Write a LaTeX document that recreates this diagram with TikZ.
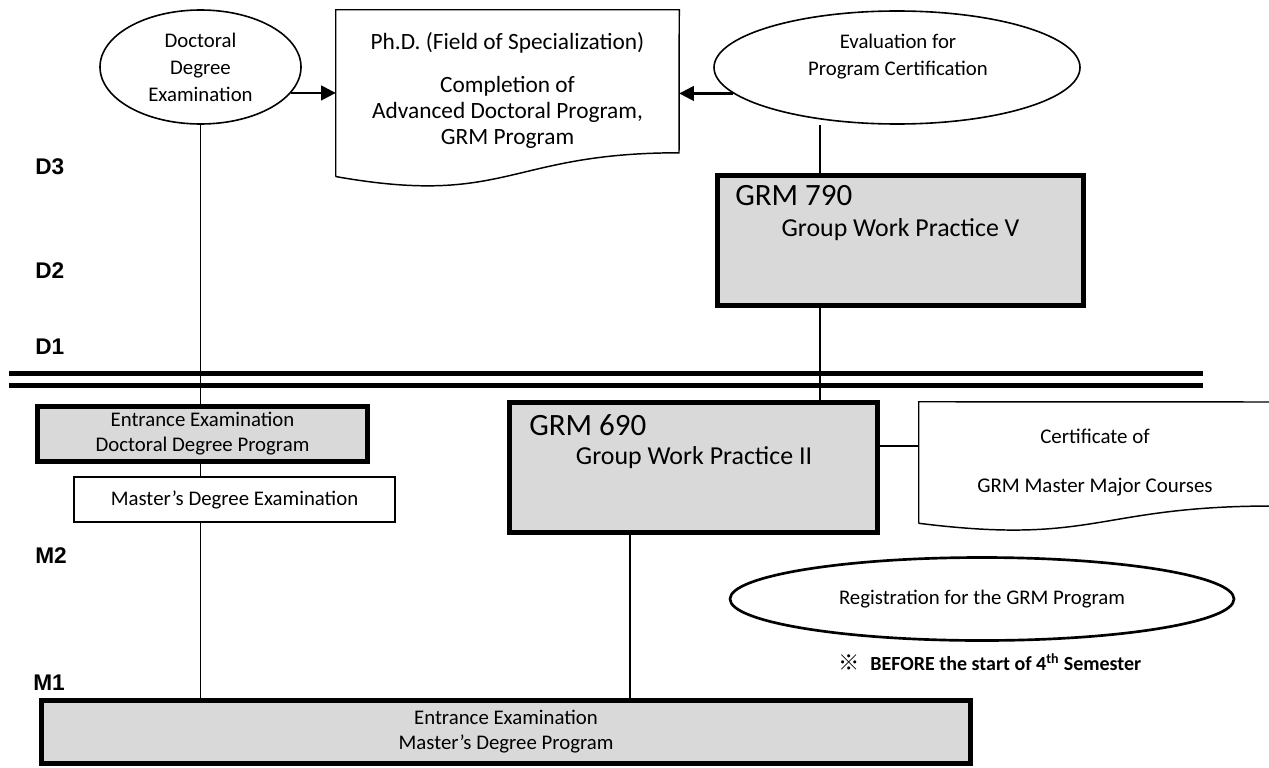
\documentclass[tikz,border=0pt]{standalone}
\usepackage{fontspec}
\setmainfont{Carlito}
\newfontfamily\lblfont{Liberation Sans}
\newfontfamily\cjk{Noto Sans CJK JP}
\usetikzlibrary{shapes.geometric,arrows.meta}
\definecolor{boxgray}{RGB}{217,217,217}

\begin{document}
\begin{tikzpicture}[x=0.75pt,y=0.75pt,yscale=-1,xscale=1,
  ovalbox/.style={draw,ellipse,line width=1.2pt,inner sep=0pt,align=center,font=\fontsize{15.6}{20.25}\selectfont},
  coursebox/.style={draw,line width=3.75pt,fill=boxgray,inner sep=0pt,align=center,font=\fontsize{15.6}{18.75}\selectfont},
  plainbox/.style={draw,line width=1.1pt,fill=white,inner sep=0pt,font=\fontsize{15.6}{18.75}\selectfont},
  docarea/.style={rectangle,inner sep=0pt},
  doctxt/.style={align=center,inner sep=0pt},
  yearlbl/.style={anchor=west,inner sep=0pt,font=\lblfont\bfseries\fontsize{17}{20}\selectfont},
  grmcode/.style={anchor=west,inner sep=0pt,font=\fontsize{23.25}{28}\selectfont},
  grmname/.style={inner sep=0pt,font=\fontsize{19.4}{23}\selectfont},
  link/.style={line width=1pt},
  fwd/.style={line width=1.8pt,-{Triangle[length=11pt,width=11pt]}},
  sepline/.style={line width=3.75pt}]
\useasboundingbox (0,0) rectangle (1269,767);

% Year labels
\node[yearlbl] (d3) at (35,167) {D3};
\node[yearlbl] (d2) at (35,271) {D2};
\node[yearlbl] (d1) at (35,347) {D1};
\node[yearlbl] (m2) at (35,556) {M2};
\node[yearlbl] (m1) at (33,683) {M1};

%Separator between master and doctoral course
\draw[sepline] (9,373.5) -- (1203,373.5);
\draw[sepline] (9,385.5) -- (1203,385.5);

%Ellipses
\node[ovalbox,minimum width=150.75pt,minimum height=85.5pt] (docexam) at (200.5,67) {Doctoral\\Degree\\Examination};
\node[ovalbox,minimum width=274.5pt,minimum height=84.75pt] (evalcert) at (897,67.5) {};
\node[doctxt,font=\fontsize{15.6}{20.25}\selectfont] (evalcerttxt) at (898,57) {Evaluation for\\Program Certification};
\node[ovalbox,line width=2pt,minimum width=378pt,minimum height=62.25pt] (regist) at (982,599) {Registration for the GRM Program};

%Documents
\node[docarea,minimum width=257.25pt,minimum height=124.7pt] (phd) at (507.5,93.15) {};
\draw[line width=1.1pt] (phd.south west) -- (phd.north west) -- (phd.north east) -- (679,152.8) .. controls (507.5,152.8) and (507.5,207) .. (phd.south west);
\node[doctxt,font=\fontsize{17.5}{19.5}\selectfont] (phdtxt) at (507.5,90) {Ph.D. (Field of Specialization)\\[12.75pt]Completion of\\Advanced Doctoral Program,\\GRM Program};

\node[docarea,minimum width=265.5pt,minimum height=90.75pt] (cert) at (1096,462.5) {};
\draw[line width=1.1pt] (cert.south west) -- (cert.north west) -- (1273,402) -- (1273,506) .. controls (1096,506) and (1096,545.5) .. (cert.south west);
\node[doctxt,font=\fontsize{15.7}{19}\selectfont] (certtxt) at (1095,462.5) {Certificate of\\[17.75pt]GRM Master Major Courses};

%Flowchart: Process
\node[coursebox,minimum width=274.5pt,minimum height=97.5pt] (grm790) at (900.5,240.5) {};
\node[grmcode] (grm790code) at (735,196) {GRM 790};
\node[grmname] (grm790name) at (900.5,230) {Group Work Practice V};

\node[coursebox,minimum width=276pt,minimum height=97.5pt] (grm690) at (693.5,467.5) {};
\node[grmcode] (grm690code) at (529,425) {GRM 690};
\node[grmname] (grm690name) at (694,458) {Group Work Practice II};

\node[coursebox,minimum width=247.5pt,minimum height=41.25pt] (docent) at (202.5,434) {Entrance Examination\\Doctoral Degree Program};
\node[plainbox,minimum width=240.75pt,minimum height=33.75pt] (mastexam) at (234.5,499.5) {Master’s Degree Examination};
\node[coursebox,minimum width=696.75pt,minimum height=47.25pt] (mastent) at (506,732) {Entrance Examination\\Master’s Degree Program};

%Helper coordinates
\coordinate (midx) at (630,0);
\coordinate (rightx) at (820,0);
\coordinate (certy) at (0,446);

%Straight Lines
\draw[link] (docexam.south) -- (docexam.south |- docent.north);
\draw[link] (docexam.south |- docent.south) -- (docexam.south |- mastexam.north);
\draw[link] (docexam.south |- mastexam.south) -- (docexam.south |- mastent.north);
\draw[link] (midx |- grm690.south) -- (midx |- mastent.north);
\draw[link] (rightx |- evalcert.south) -- (rightx |- grm790.north);
\draw[link] (rightx |- grm790.south) -- (rightx |- grm690.north);
\draw[link] (grm690.east |- certy) -- (cert.west |- certy);

%Arrows
\draw[fwd] (docexam.344) -- (docexam.344 -| phd.west);
\draw[fwd] (evalcert.189) -- (evalcert.189 -| phd.east);

% Text Node
\node[anchor=west,inner sep=0pt,font=\fontsize{15}{18}\selectfont] (note) at (838,662) {{\cjk\fontsize{16}{18}\selectfont ※}\hspace{8pt}\textbf{BEFORE the start of 4\textsuperscript{th} Semester}};

\end{tikzpicture}
\end{document}
